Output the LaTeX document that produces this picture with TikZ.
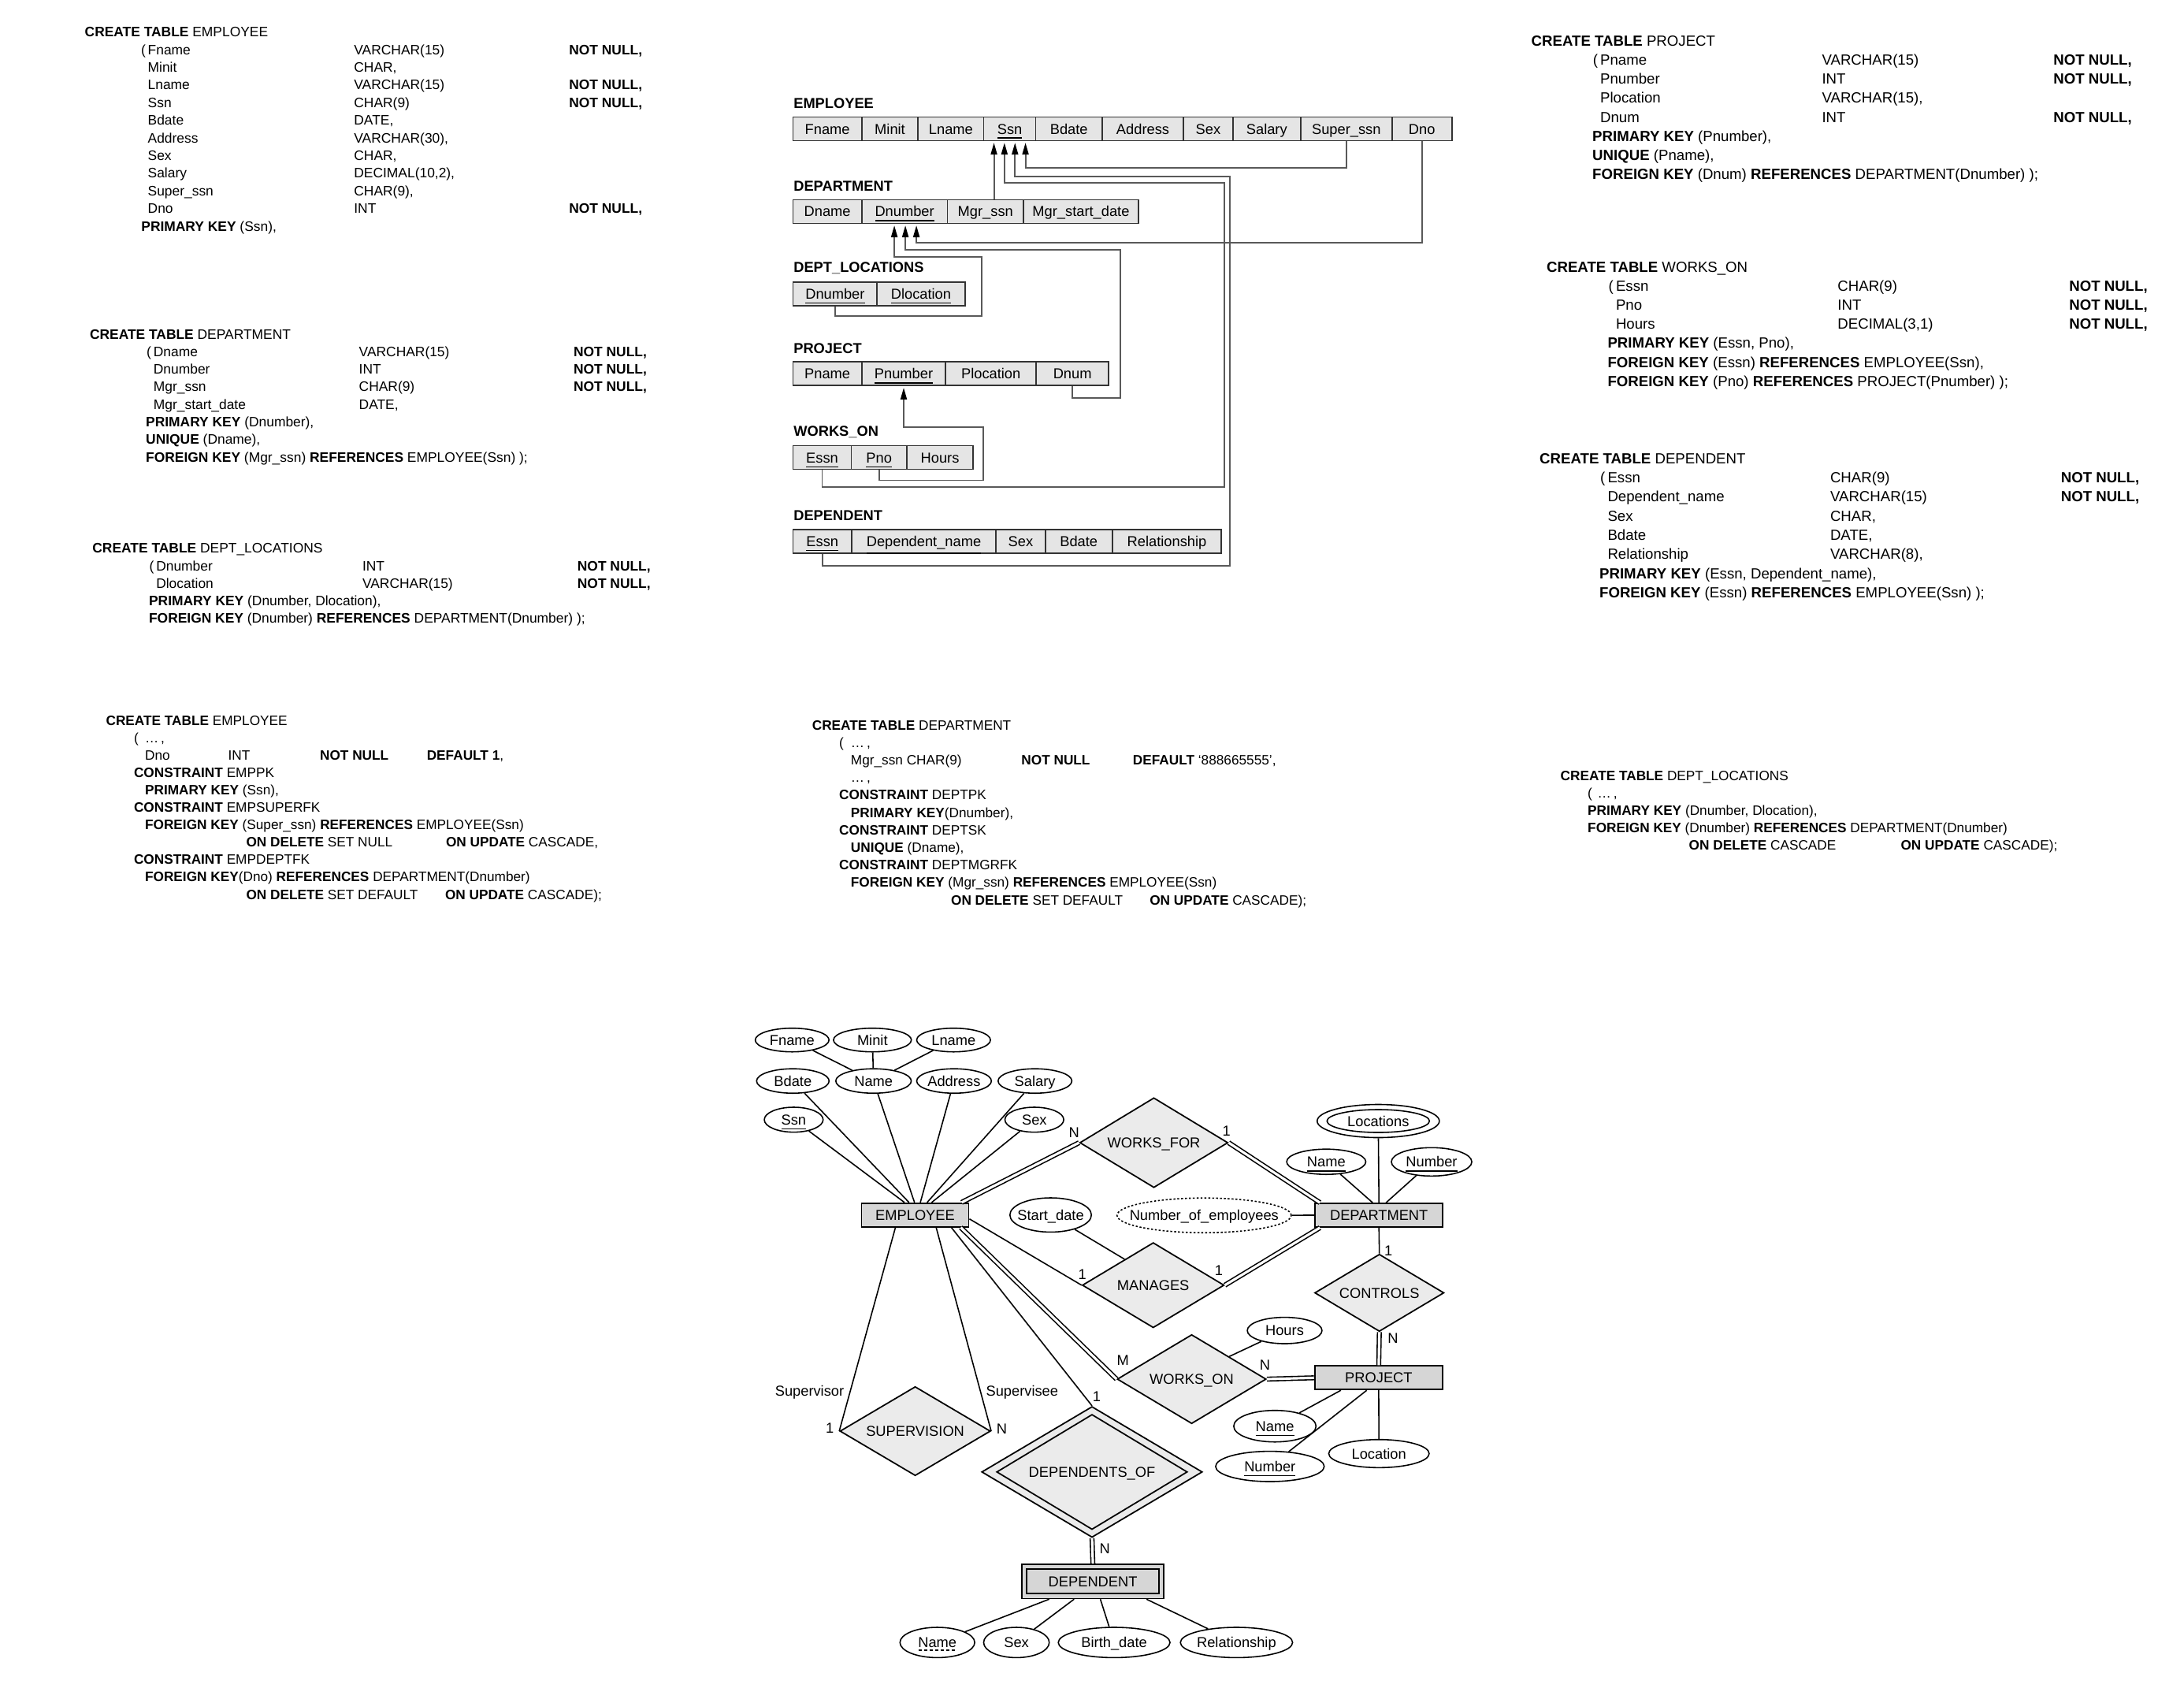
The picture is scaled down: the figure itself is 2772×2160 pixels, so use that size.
\documentclass[tikz,border=0pt]{standalone}
\usepackage{fontspec}
\setmainfont{Liberation Sans}
\usetikzlibrary{shapes.geometric,arrows.meta,calc}

\newlength\pxu
\setlength\pxu{0.01cm}
\newcommand\fsqlA{\fontsize{4.95pt}{6pt}\selectfont}
\newcommand\fsqlB{\fontsize{5.3pt}{6.4pt}\selectfont}
\newcommand\fsqlC{\fontsize{4.9pt}{6pt}\selectfont}
\newcommand\fsch{\fontsize{5.2pt}{6.2pt}\selectfont}
\newcommand\fer{\fontsize{5.2pt}{6.2pt}\selectfont}
% one row of a CREATE TABLE: attribute, type, constraint
\newcommand\sqlrow[5]{\makebox[#1\pxu][l]{#3}\makebox[#2\pxu][l]{#4}\textbf{#5}}
\newcommand\colbox[2]{\makebox[#1\pxu][l]{#2}}
\newcommand\zw[1]{\makebox[0pt]{#1}}
\newcommand\sqlnode[5]{\node[#1] (#2) at (#3,#4) {#5};}

\definecolor{cellgray}{gray}{0.9}
\definecolor{entgray}{gray}{0.84}
\definecolor{relgray}{gray}{0.92}

\begin{document}
\begin{tikzpicture}[x=0.01cm, y=-0.01cm,
  sqlA/.style={font=\fsqlA, inner sep=0, anchor=base west},
  sqlB/.style={font=\fsqlB, inner sep=0, anchor=base west},
  sqlC/.style={font=\fsqlC, inner sep=0, anchor=base west},
  cell/.style={draw=black!80, fill=cellgray, line width=0.5pt, minimum height=0.30cm,
    inner sep=0, font=\fsch, text height=0.13cm, text depth=0cm},
  tlabel/.style={font=\fsch\bfseries, inner sep=0, anchor=base west},
  fk/.style={draw=black!65, line width=0.55pt, shorten >=0.5pt,
    -{Triangle[length=0.15cm,width=0.08cm,color=black]}},
  erline/.style={draw=black, line width=0.45pt},
  dbl/.style={erline, double, double distance=0.9pt},
  entity/.style={rectangle, draw, line width=0.5pt, fill=entgray, inner sep=0,
    font=\fer, text height=0.13cm, text depth=0cm},
  rel/.style={diamond, draw, line width=0.5pt, fill=relgray, inner sep=0,
    font=\fer, text height=0.13cm, text depth=0cm},
  attr/.style={ellipse, draw, line width=0.45pt, fill=white, inner sep=0,
    font=\fer, text height=0.13cm, text depth=0cm},
  card/.style={font=\fer, inner sep=0, text height=0.13cm, text depth=0cm},
]
\fill[white] (0,0) rectangle (2772,2160);
\useasboundingbox (0,0) rectangle (2772,2160);

% ---------------- CREATE TABLE EMPLOYEE ----------------
\sqlnode{sqlA}{s1h}{107}{46.7}{\textbf{CREATE TABLE} EMPLOYEE}
\sqlnode{sqlA}{s1a}{187}{69.1}{\sqlrow{261.7}{272.9}{\llap{(\,}Fname}{VARCHAR(15)}{NOT NULL,}}
\sqlnode{sqlA}{s1b}{187}{91.5}{\sqlrow{261.7}{272.9}{Minit}{CHAR,}{}}
\sqlnode{sqlA}{s1c}{187}{113.9}{\sqlrow{261.7}{272.9}{Lname}{VARCHAR(15)}{NOT NULL,}}
\sqlnode{sqlA}{s1d}{187}{136.3}{\sqlrow{261.7}{272.9}{Ssn}{CHAR(9)}{NOT NULL,}}
\sqlnode{sqlA}{s1e}{187}{158.7}{\sqlrow{261.7}{272.9}{Bdate}{DATE,}{}}
\sqlnode{sqlA}{s1f}{187}{181.1}{\sqlrow{261.7}{272.9}{Address}{VARCHAR(30),}{}}
\sqlnode{sqlA}{s1g}{187}{203.5}{\sqlrow{261.7}{272.9}{Sex}{CHAR,}{}}
\sqlnode{sqlA}{s1i}{187}{225.9}{\sqlrow{261.7}{272.9}{Salary}{DECIMAL(10,2),}{}}
\sqlnode{sqlA}{s1j}{187}{248.3}{\sqlrow{261.7}{272.9}{Super\_ssn}{CHAR(9),}{}}
\sqlnode{sqlA}{s1k}{187}{270.7}{\sqlrow{261.7}{272.9}{Dno}{INT}{NOT NULL,}}
\sqlnode{sqlA}{s1l}{178.7}{293.1}{\textbf{PRIMARY KEY} (Ssn),}

% ---------------- CREATE TABLE DEPARTMENT ----------------
\sqlnode{sqlA}{s2h}{113.3}{430}{\textbf{CREATE TABLE} DEPARTMENT}
\sqlnode{sqlA}{s2a}{194.2}{452.3}{\sqlrow{260.8}{272.4}{\llap{(\,}Dname}{VARCHAR(15)}{NOT NULL,}}
\sqlnode{sqlA}{s2b}{194.2}{474.6}{\sqlrow{260.8}{272.4}{Dnumber}{INT}{NOT NULL,}}
\sqlnode{sqlA}{s2c}{194.2}{496.9}{\sqlrow{260.8}{272.4}{Mgr\_ssn}{CHAR(9)}{NOT NULL,}}
\sqlnode{sqlA}{s2d}{194.2}{519.2}{\sqlrow{260.8}{272.4}{Mgr\_start\_date}{DATE,}{}}
\sqlnode{sqlA}{s2e}{184.5}{541.5}{\textbf{PRIMARY KEY} (Dnumber),}
\sqlnode{sqlA}{s2f}{184.5}{563.8}{\textbf{UNIQUE} (Dname),}
\sqlnode{sqlA}{s2g}{184.5}{586.1}{\textbf{FOREIGN KEY} (Mgr\_ssn) \textbf{REFERENCES} EMPLOYEE(Ssn) );}

% ---------------- CREATE TABLE DEPT_LOCATIONS ----------------
\sqlnode{sqlA}{s3h}{116.7}{701.7}{\textbf{CREATE TABLE} DEPT\_LOCATIONS}
\sqlnode{sqlA}{s3a}{197.6}{724}{\sqlrow{261.7}{272.9}{\llap{(\,}Dnumber}{INT}{NOT NULL,}}
\sqlnode{sqlA}{s3b}{197.6}{746.3}{\sqlrow{261.7}{272.9}{Dlocation}{VARCHAR(15)}{NOT NULL,}}
\sqlnode{sqlA}{s3c}{188.4}{768.6}{\textbf{PRIMARY KEY} (Dnumber, Dlocation),}
\sqlnode{sqlA}{s3d}{188.4}{790.9}{\textbf{FOREIGN KEY} (Dnumber) \textbf{REFERENCES} DEPARTMENT(Dnumber) );}

% ---------------- CREATE TABLE PROJECT ----------------
\sqlnode{sqlB}{s4h}{1943}{58.3}{\textbf{CREATE TABLE} PROJECT}
\sqlnode{sqlB}{s4a}{2030.4}{82.5}{\sqlrow{281.4}{293.9}{\llap{(\,}Pname}{VARCHAR(15)}{NOT NULL,}}
\sqlnode{sqlB}{s4b}{2030.4}{106.7}{\sqlrow{281.4}{293.9}{Pnumber}{INT}{NOT NULL,}}
\sqlnode{sqlB}{s4c}{2030.4}{130.9}{\sqlrow{281.4}{293.9}{Plocation}{VARCHAR(15),}{}}
\sqlnode{sqlB}{s4d}{2030.4}{155.1}{\sqlrow{281.4}{293.9}{Dnum}{INT}{NOT NULL,}}
\sqlnode{sqlB}{s4e}{2020.5}{179.3}{\textbf{PRIMARY KEY} (Pnumber),}
\sqlnode{sqlB}{s4f}{2020.5}{203.5}{\textbf{UNIQUE} (Pname),}
\sqlnode{sqlB}{s4g}{2020.5}{227.7}{\textbf{FOREIGN KEY} (Dnum) \textbf{REFERENCES} DEPARTMENT(Dnumber) );}

% ---------------- CREATE TABLE WORKS_ON ----------------
\sqlnode{sqlB}{s5h}{1962.4}{345}{\textbf{CREATE TABLE} WORKS\_ON}
\sqlnode{sqlB}{s5a}{2050.3}{369.2}{\sqlrow{281.4}{293.9}{\llap{(\,}Essn}{CHAR(9)}{NOT NULL,}}
\sqlnode{sqlB}{s5b}{2050.3}{393.4}{\sqlrow{281.4}{293.9}{Pno}{INT}{NOT NULL,}}
\sqlnode{sqlB}{s5c}{2050.3}{417.6}{\sqlrow{281.4}{293.9}{Hours}{DECIMAL(3,1)}{NOT NULL,}}
\sqlnode{sqlB}{s5d}{2039.8}{441.8}{\textbf{PRIMARY KEY} (Essn, Pno),}
\sqlnode{sqlB}{s5e}{2039.8}{466}{\textbf{FOREIGN KEY} (Essn) \textbf{REFERENCES} EMPLOYEE(Ssn),}
\sqlnode{sqlB}{s5f}{2039.8}{490.2}{\textbf{FOREIGN KEY} (Pno) \textbf{REFERENCES} PROJECT(Pnumber) );}

% ---------------- CREATE TABLE DEPENDENT ----------------
\sqlnode{sqlB}{s6h}{1953.5}{588.3}{\textbf{CREATE TABLE} DEPENDENT}
\sqlnode{sqlB}{s6a}{2039.8}{612.6}{\sqlrow{282.5}{292.8}{\llap{(\,}Essn}{CHAR(9)}{NOT NULL,}}
\sqlnode{sqlB}{s6b}{2039.8}{636.9}{\sqlrow{282.5}{292.8}{Dependent\_name}{VARCHAR(15)}{NOT NULL,}}
\sqlnode{sqlB}{s6c}{2039.8}{661.2}{\sqlrow{282.5}{292.8}{Sex}{CHAR,}{}}
\sqlnode{sqlB}{s6d}{2039.8}{685.5}{\sqlrow{282.5}{292.8}{Bdate}{DATE,}{}}
\sqlnode{sqlB}{s6e}{2039.8}{709.8}{\sqlrow{282.5}{292.8}{Relationship}{VARCHAR(8),}{}}
\sqlnode{sqlB}{s6f}{2029.4}{734.1}{\textbf{PRIMARY KEY} (Essn, Dependent\_name),}
\sqlnode{sqlB}{s6g}{2029.4}{758.4}{\textbf{FOREIGN KEY} (Essn) \textbf{REFERENCES} EMPLOYEE(Ssn) );}

% ---------------- EMPLOYEE with named constraints ----------------
\sqlnode{sqlC}{s7h}{133.9}{920}{\textbf{CREATE TABLE} EMPLOYEE}
\sqlnode{sqlC}{s7a}{169.3}{942.1}{\colbox{14.1}{(}\ldots\,,}
\sqlnode{sqlC}{s7b}{183.4}{964.2}{\colbox{105.6}{Dno}\colbox{116.4}{INT}\colbox{135.7}{\textbf{NOT NULL}}\textbf{DEFAULT 1},}
\sqlnode{sqlC}{s7c}{169.3}{986.3}{\textbf{CONSTRAINT} EMPPK}
\sqlnode{sqlC}{s7d}{183.4}{1008.4}{\textbf{PRIMARY KEY} (Ssn),}
\sqlnode{sqlC}{s7e}{169.3}{1030.5}{\textbf{CONSTRAINT} EMPSUPERFK}
\sqlnode{sqlC}{s7f}{183.4}{1052.6}{\textbf{FOREIGN KEY} (Super\_ssn) \textbf{REFERENCES} EMPLOYEE(Ssn)}
\sqlnode{sqlC}{s7g}{311.8}{1074.7}{\colbox{253.5}{\textbf{ON DELETE} SET NULL}\textbf{ON UPDATE} CASCADE,}
\sqlnode{sqlC}{s7i}{169.3}{1096.8}{\textbf{CONSTRAINT} EMPDEPTFK}
\sqlnode{sqlC}{s7j}{183.4}{1118.9}{\textbf{FOREIGN KEY}(Dno) \textbf{REFERENCES} DEPARTMENT(Dnumber)}
\sqlnode{sqlC}{s7k}{311.8}{1141}{\colbox{252.5}{\textbf{ON DELETE} SET DEFAULT}\textbf{ON UPDATE} CASCADE);}

% ---------------- DEPARTMENT with named constraints ----------------
\sqlnode{sqlC}{s8h}{1030.1}{926}{\textbf{CREATE TABLE} DEPARTMENT}
\sqlnode{sqlC}{s8a}{1064.5}{948.2}{\colbox{14.7}{(}\ldots\,,}
\sqlnode{sqlC}{s8b}{1079.2}{970.4}{\colbox{216.5}{Mgr\_ssn CHAR(9)}\colbox{141.5}{\textbf{NOT NULL}}\textbf{DEFAULT} ‘888665555’,}
\sqlnode{sqlC}{s8c}{1079.2}{992.6}{\ldots\,,}
\sqlnode{sqlC}{s8d}{1064.5}{1014.8}{\textbf{CONSTRAINT} DEPTPK}
\sqlnode{sqlC}{s8e}{1079.2}{1037}{\textbf{PRIMARY KEY}(Dnumber),}
\sqlnode{sqlC}{s8f}{1064.5}{1059.2}{\textbf{CONSTRAINT} DEPTSK}
\sqlnode{sqlC}{s8g}{1079.2}{1081.4}{\textbf{UNIQUE} (Dname),}
\sqlnode{sqlC}{s8i}{1064.5}{1103.6}{\textbf{CONSTRAINT} DEPTMGRFK}
\sqlnode{sqlC}{s8j}{1079.2}{1125.8}{\textbf{FOREIGN KEY} (Mgr\_ssn) \textbf{REFERENCES} EMPLOYEE(Ssn)}
\sqlnode{sqlC}{s8k}{1206.4}{1148}{\colbox{252.2}{\textbf{ON DELETE} SET DEFAULT}\textbf{ON UPDATE} CASCADE);}

% ---------------- DEPT_LOCATIONS with actions ----------------
\sqlnode{sqlC}{s9h}{1980}{990}{\textbf{CREATE TABLE} DEPT\_LOCATIONS}
\sqlnode{sqlC}{s9a}{2014.5}{1012.1}{\colbox{12.5}{(}\ldots\,,}
\sqlnode{sqlC}{s9b}{2014.5}{1034.2}{\textbf{PRIMARY KEY} (Dnumber, Dlocation),}
\sqlnode{sqlC}{s9c}{2014.5}{1056.3}{\textbf{FOREIGN KEY} (Dnumber) \textbf{REFERENCES} DEPARTMENT(Dnumber)}
\sqlnode{sqlC}{s9d}{2143}{1078.4}{\colbox{268.8}{\textbf{ON DELETE} CASCADE}\textbf{ON UPDATE} CASCADE);}

% ---------------- relational schema ----------------
\node[tlabel] (lbEmp)  at (1006.6,137.1) {EMPLOYEE};
\node[tlabel] (lbDept) at (1006.6,242.2) {DEPARTMENT};
\node[tlabel] (lbDL)   at (1006.6,345.7) {DEPT\_LOCATIONS};
\node[tlabel] (lbProj) at (1006.6,448.1) {PROJECT};
\node[tlabel] (lbWO)   at (1006.6,553.2) {WORKS\_ON};
\node[tlabel] (lbDep)  at (1006.6,660.3) {DEPENDENT};

\foreach \xa/\xb/\nm/\txt in {1006.6/1093.7/eFname/Fname, 1093.7/1165.3/eMinit/Minit,
    1165.3/1248.5/eLname/Lname, 1248.5/1314.6/eSsn/\underline{Ssn}, 1314.6/1398.9/eBdate/Bdate,
    1398.9/1502.1/eAddr/Address, 1502.1/1564.8/eSex/Sex, 1564.8/1650.8/eSalary/Salary,
    1650.8/1766.7/eSuper/Super\_ssn, 1766.7/1842.7/eDno/Dno}
  \node[cell, minimum width={(\xb-\xa)*0.01cm}] (\nm) at ({(\xa+\xb)/2},163.5) {\txt};
\foreach \xa/\xb/\nm/\txt in {1006.6/1093.7/dDname/Dname, 1093.7/1202.5/dDnum/\underline{Dnumber},
    1202.5/1299/dMgr/Mgr\_ssn, 1299/1444.9/dStart/Mgr\_start\_date}
  \node[cell, minimum width={(\xb-\xa)*0.01cm}] (\nm) at ({(\xa+\xb)/2},268.4) {\txt};
\foreach \xa/\xb/\nm/\txt in {1006.6/1113.2/lDnum/\underline{Dnumber}, 1113.2/1224.7/lDloc/\underline{Dlocation}}
  \node[cell, minimum width={(\xb-\xa)*0.01cm}] (\nm) at ({(\xa+\xb)/2},372.7) {\txt};
\foreach \xa/\xb/\nm/\txt in {1006.6/1093.7/pPname/Pname, 1093.7/1200.3/pPnum/\underline{Pnumber},
    1200.3/1315.1/pPloc/Plocation, 1315.1/1407.2/pDnum/Dnum}
  \node[cell, minimum width={(\xb-\xa)*0.01cm}] (\nm) at ({(\xa+\xb)/2},474.3) {\txt};
\foreach \xa/\xb/\nm/\txt in {1006.6/1080.4/wEssn/\underline{Essn}, 1080.4/1150.9/wPno/\underline{Pno},
    1150.9/1235.2/wHours/Hours}
  \node[cell, minimum width={(\xb-\xa)*0.01cm}] (\nm) at ({(\xa+\xb)/2},580.6) {\txt};
\foreach \xa/\xb/\nm/\txt in {1006.6/1081/tEssn/\underline{Essn}, 1081/1264.1/tDname/\underline{Dependent\_name},
    1264.1/1326.8/tSex/Sex, 1326.8/1411.7/tBdate/Bdate, 1411.7/1550.3/tRel/Relationship}
  \node[cell, minimum width={(\xb-\xa)*0.01cm}] (\nm) at ({(\xa+\xb)/2},686.9) {\txt};

% referential integrity arrows
\coordinate (ssnA) at ($(eSsn.south)+(-20,0)$);
\coordinate (ssnB) at ($(eSsn.south)+(-6.7,0)$);
\coordinate (ssnC) at ($(eSsn.south)+(6.7,0)$);
\coordinate (ssnD) at ($(eSsn.south)+(20,0)$);
\coordinate (dnA) at ($(dDnum.south)+(-13,0)$);
\coordinate (dnB) at ($(dDnum.south)+(1,0)$);
\coordinate (dnC) at ($(dDnum.south)+(15,0)$);

\draw[fk] (ssnA |- dMgr.north) -- (ssnA);
\draw[fk] (eSuper.south) -- (eSuper.south |- 0,212.7) -| (ssnD);
\draw[fk] (tEssn.south) -- (tEssn.south |- 0,717.8) -- (1561.4,717.8) -- (1561.4,223.7) -| (ssnC);
\draw[fk] (wEssn.south) -- (wEssn.south |- 0,618.2) -- (1553.7,618.2) -- (1553.7,232.3) -| (ssnB);
\draw[fk] (eDno.south) -- (eDno.south |- 0,307.9) -| (dnC);
\draw[fk] (pDnum.south) -- (pDnum.south |- 0,505.2) -- (1421.6,505.2) -- (1421.6,317) -| (dnB);
\draw[fk] (lDnum.south) -- (lDnum.south |- 0,400.8) -- (1245.8,400.8) -- (1245.8,325.7) -| (dnA);
\draw[fk] (wPno.south) -- (wPno.south |- 0,609.5) -- (1248,609.5) -- (1248,542.2) -| (pPnum.south);

% ---------------- ER diagram ----------------
% entity types
\node[entity, minimum width=1.36cm, minimum height=0.30cm] (erEmp) at (1161.5,1541.7) {EMPLOYEE};
\node[entity, minimum width=1.62cm, minimum height=0.30cm] (erDept) at (1750.2,1542) {DEPARTMENT};
\node[entity, minimum width=1.625cm, minimum height=0.30cm] (erProj) at (1749.9,1748.3) {PROJECT};
\node[entity, minimum width=1.796cm, minimum height=0.433cm] (erDep) at (1387.1,2006.7) {};
\node[entity, minimum width=1.682cm, minimum height=0.31cm] (erDepIn) at (erDep.center) {DEPENDENT};

% relationship types
\node[rel, minimum width=1.88cm, minimum height=1.14cm] (erWorksFor) at (1464.5,1450) {\zw{WORKS\_FOR}};
\node[rel, minimum width=1.80cm, minimum height=1.08cm] (erManages) at (1463.7,1630.8) {\zw{MANAGES}};
\node[rel, minimum width=1.64cm, minimum height=0.98cm] (erControls) at (1750.7,1640.5) {\zw{CONTROLS}};
\node[rel, minimum width=1.89cm, minimum height=1.13cm] (erWorksOn) at (1512.5,1750) {\zw{WORKS\_ON}};
\node[rel, minimum width=1.91cm, minimum height=1.13cm] (erSuperv) at (1161.6,1816) {\zw{SUPERVISION}};
\node[rel, minimum width=2.80cm, minimum height=1.66cm] (erDepOf) at (1386,1867.8) {};
\node[rel, minimum width=2.42cm, minimum height=1.46cm] (erDepOfIn) at (erDepOf.center) {\zw{DEPENDENTS\_OF}};

% attributes
\node[attr, minimum width=0.936cm, minimum height=0.30cm] (erFname) at (1005.4,1319.7) {\zw{Fname}};
\node[attr, minimum width=0.988cm, minimum height=0.30cm] (erMinit) at (1107.3,1319.7) {\zw{Minit}};
\node[attr, minimum width=0.936cm, minimum height=0.30cm] (erLname) at (1210.3,1319.7) {\zw{Lname}};
\node[attr, minimum width=0.92cm, minimum height=0.31cm] (erBdate) at (1006.3,1371.7) {\zw{Bdate}};
\node[attr, minimum width=0.958cm, minimum height=0.31cm] (erName) at (1108.7,1371.7) {\zw{Name}};
\node[attr, minimum width=0.948cm, minimum height=0.31cm] (erAddress) at (1210.9,1371.7) {\zw{Address}};
\node[attr, minimum width=0.936cm, minimum height=0.31cm] (erSalary) at (1313.6,1371.7) {\zw{Salary}};
\node[attr, minimum width=0.746cm, minimum height=0.316cm] (erSsn) at (1007.4,1420.8) {\zw{\underline{Ssn}}};
\node[attr, minimum width=0.746cm, minimum height=0.316cm] (erSex) at (1312.8,1420.8) {\zw{Sex}};
\node[attr, minimum width=1.55cm, minimum height=0.42cm] (erLocs) at (1749.3,1422.5) {};
\node[attr, minimum width=1.30cm, minimum height=0.29cm] (erLocsIn) at (erLocs.center) {\zw{Locations}};
\node[attr, minimum width=1.004cm, minimum height=0.32cm] (erDName) at (1683.3,1474.2) {\zw{\underline{Name}}};
\node[attr, minimum width=1.02cm, minimum height=0.36cm] (erDNumber) at (1817,1474.3) {\zw{\underline{Number}}};
\node[attr, dash pattern=on 0.7pt off 0.7pt, minimum width=2.21cm, minimum height=0.44cm] (erNumEmp) at (1528.3,1542.2) {\zw{Number\_of\_employees}};
\node[attr, minimum width=1.034cm, minimum height=0.434cm] (erStart) at (1333.5,1541.7) {\zw{Start\_date}};
\node[attr, minimum width=0.948cm, minimum height=0.334cm] (erHours) at (1630.5,1688.3) {\zw{Hours}};
\node[attr, minimum width=1.044cm, minimum height=0.40cm] (erPName) at (1618.1,1809.7) {\zw{\underline{Name}}};
\node[attr, minimum width=1.378cm, minimum height=0.384cm] (erPNumber) at (1611.8,1860.8) {\zw{\underline{Number}}};
\node[attr, minimum width=1.274cm, minimum height=0.356cm] (erPLoc) at (1750.2,1844.5) {\zw{Location}};
\node[attr, minimum width=0.948cm, minimum height=0.384cm] (erDpName) at (1189.7,2084.2) {\zw{Name}};
\node[attr, minimum width=0.832cm, minimum height=0.384cm] (erDpSex) at (1290.1,2084.2) {\zw{Sex}};
\node[attr, minimum width=1.418cm, minimum height=0.384cm] (erDpBirth) at (1414.1,2084.2) {\zw{Birth\_date}};
\node[attr, minimum width=1.424cm, minimum height=0.384cm] (erDpRel) at (1569.4,2084.2) {\zw{Relationship}};
% partial key of the weak entity
\draw[erline, dash pattern=on 1.2pt off 0.8pt] ($(erDpName.center)+(-24,10)$) -- ($(erDpName.center)+(24,10)$);

% attribute links
\draw[erline] (erFname) -- (erName);
\draw[erline] (erMinit) -- (erName);
\draw[erline] (erLname) -- (erName);
\draw[erline] (erSsn) -- ($(erEmp.north)+(-13.5,0)$);
\draw[erline] (erBdate) -- ($(erEmp.north)+(-7.7,0)$);
\draw[erline] (erName) -- ($(erEmp.north)+(-0.8,0)$);
\draw[erline] (erAddress) -- ($(erEmp.north)+(6.6,0)$);
\draw[erline] (erSalary) -- ($(erEmp.north)+(15.2,0)$);
\draw[erline] (erSex) -- ($(erEmp.north)+(21,0)$);
\draw[erline] (erLocs) -- (erDept.north);
\draw[erline] (erDName) -- ($(erDept.north)+(-8,0)$);
\draw[erline] (erDNumber) -- ($(erDept.north)+(9,0)$);
\draw[erline] (erNumEmp) -- (erDept.west);
\draw[erline] (erStart) -- ($(erManages.north)!0.4!(erManages.west)$);
\draw[erline] (erHours) -- ($(erWorksOn.north)!0.5!(erWorksOn.east)$);
\draw[erline] ($(erProj.south)+(-48,0)$) -- (erPName);
\draw[erline] ($(erProj.south)+(-15.2,0)$) -- (erPNumber);
\draw[erline] (erProj.south) -- (erPLoc);
\draw[erline] ($(erDep.south)+(-55.4,0)$) -- (erDpName);
\draw[erline] ($(erDep.south)+(-23.8,0)$) -- (erDpSex);
\draw[erline] ($(erDep.south)+(9.5,0)$) -- (erDpBirth);
\draw[erline] ($(erDep.south)+(68,0)$) -- (erDpRel);

% relationship links
\draw[dbl] ($(erEmp.north east)+(-10,0)$) -- (erWorksFor.west);
\draw[dbl] (erWorksFor.east) -- ($(erDept.north west)+(7,0)$);
\draw[erline] ($(erEmp.east)+(0,5)$) -- (erManages.west);
\draw[dbl] (erManages.east) -- ($(erDept.south west)+(7,0)$);
\draw[erline] (erDept.south) -- (erControls.north);
\draw[dbl] (erControls.south) -- (erProj.north);
\draw[dbl] ($(erEmp.south east)+(-11,0)$) -- (erWorksOn.west);
\draw[dbl] (erWorksOn.east) -- (erProj.west);
\draw[erline] ($(erEmp.south)+(-25,0)$) -- (erSuperv.west);
\draw[erline] ($(erEmp.south)+(26.7,0)$) -- (erSuperv.east);
\draw[erline] ($(erEmp.south)+(46,0)$) -- (erDepOf.north);
\draw[dbl] (erDepOf.south) -- (erDep.north);

% cardinality ratios and role names
\node[card] (kWFn) at (1363.3,1436.7) {N};
\node[card] (kWF1) at (1556.7,1435) {1};
\node[card] (kMg1) at (1373.6,1616.7) {1};
\node[card] (kMg2) at (1547,1611.7) {1};
\node[card] (kCt1) at (1762.2,1586.7) {1};
\node[card] (kCtn) at (1768,1698.3) {N};
\node[card] (kWOm) at (1425.3,1726) {M};
\node[card] (kWOn) at (1605.5,1731.7) {N};
\node[card] (kSv1) at (1053.3,1811.7) {1};
\node[card] (kSvn) at (1271.4,1813.3) {N};
\node[card] (kDo1) at (1392,1771.7) {1};
\node[card] (kDon) at (1402.3,1965) {N};
\node[card] (kSup) at (1027.5,1765) {Supervisor};
\node[card] (kSee) at (1297.3,1765) {Supervisee};
\end{tikzpicture}
\end{document}
